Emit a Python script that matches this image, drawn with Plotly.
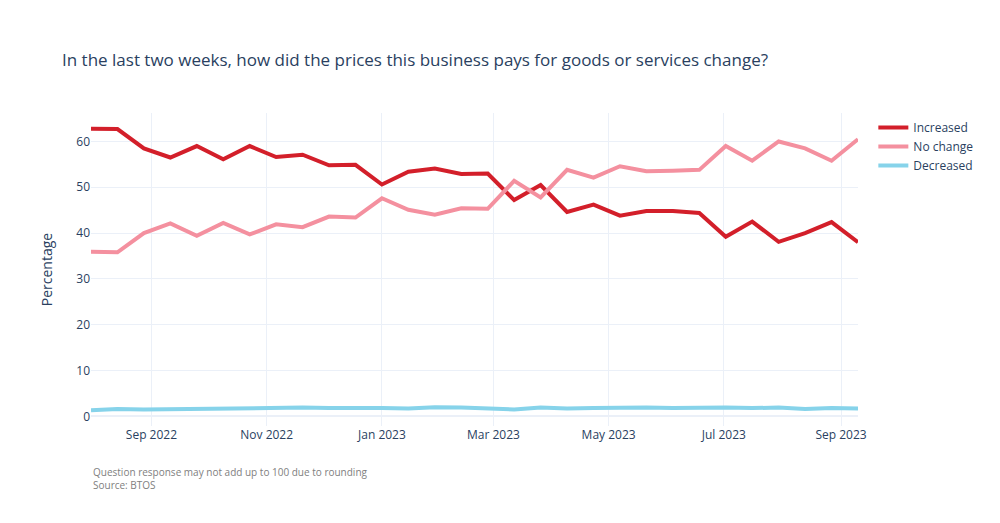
import plotly.graph_objects as go
import pandas as pd

# biweekly survey periods
dates = pd.date_range("2022-07-31", periods=30, freq="14D")

increased = [62.8, 62.7, 58.5, 56.5, 59.0, 56.1, 59.0, 56.6, 57.1, 54.8,
             54.9, 50.6, 53.4, 54.1, 52.9, 53.0, 47.2, 50.5, 44.6, 46.2,
             43.8, 44.8, 44.8, 44.4, 39.2, 42.5, 38.1, 40.0, 42.4, 38.0]
no_change = [35.9, 35.8, 40.0, 42.1, 39.4, 42.2, 39.7, 41.9, 41.3, 43.6,
             43.4, 47.6, 45.1, 44.0, 45.4, 45.3, 51.4, 47.8, 53.8, 52.1,
             54.6, 53.5, 53.6, 53.8, 59.0, 55.8, 60.0, 58.5, 55.8, 60.5]
decreased = [1.3, 1.6, 1.5, 1.6, 1.6, 1.7, 1.7, 1.8, 1.9, 1.8,
             1.9, 1.8, 1.7, 2.0, 1.9, 1.8, 1.5, 1.9, 1.7, 1.8,
             1.9, 1.9, 1.8, 1.9, 1.9, 1.8, 1.9, 1.6, 1.8, 1.7]

series = [("Increased", increased, "#d31f2a"),
          ("No change", no_change, "#f4909f"),
          ("Decreased", decreased, "#86d3ea")]

fig = go.Figure()
for name, vals, col in series:
    fig.add_trace(go.Scatter(x=dates, y=vals, name=name, mode="lines",
                             line=dict(color=col, width=4)))

fig.update_layout(
    template="plotly_white",
    width=1000, height=523,
    title=dict(text="In the last two weeks, how did the prices this business pays for goods or services change?",
               x=0.054, y=0.912),
    yaxis=dict(title=dict(text="Percentage", standoff=20)),
    margin=dict(l=83, r=150, t=105, b=105),
    xaxis=dict(dtick="M2", tickformat="%b %Y"),
)
fig.add_annotation(text="Question response may not add up to 100 due to rounding<br>Source: BTOS",
                   xref="paper", yref="paper", x=0, y=-0.118, xanchor="left", yanchor="top",
                   align="left", showarrow=False, font=dict(size=10, color="gray"))

fig.write_html("out.html")
